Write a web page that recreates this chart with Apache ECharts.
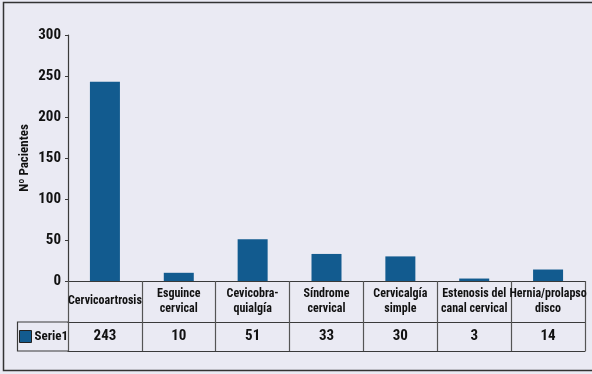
<!DOCTYPE html>
<html>
<head>
<meta charset="utf-8">
<script src="https://cdn.jsdelivr.net/npm/echarts@6/dist/echarts.min.js"></script>
<style>
  html, body { margin: 0; padding: 0; background: #eaeaf3; }
  #main { width: 592px; height: 374px; }
</style>
</head>
<body>
<div id="main"></div>
<script>
// datos del gráfico
const categorias = ['Cervicoartrosis', 'Esguince\ncervical', 'Cevicobra-\nquialgía', 'Síndrome\ncervical', 'Cervicalgía\nsimple', 'Estenosis del\ncanal cervical', 'Hernia/prolapso\ndisco'];
const serie1 = [243, 10, 51, 33, 30, 3, 14];
const nombreSerie = 'Serie1';

const fuente = '"Roboto Condensed", "Liberation Sans Narrow", sans-serif';
const azul = '#125b8f';
const linea = '#3a3a3a';

const chart = echarts.init(document.getElementById('main'));

const option = {
  backgroundColor: '#eaeaf3',
  animation: false,
  textStyle: { fontFamily: fuente },
  grid: { left: 68, right: 7, top: 35, bottom: 93, outerBoundsMode: 'none', containLabel: false },
  legend: {
    left: 19, top: 330, padding: 0,
    itemWidth: 12, itemHeight: 12, itemGap: 4,
    icon: 'rect',
    itemStyle: { borderColor: '#222', borderWidth: 1 },
    textStyle: { fontFamily: fuente, fontWeight: 'bold', fontSize: 13, color: '#111', padding: [0, 0, 0, -2] },
    data: [nombreSerie]
  },
  xAxis: [
    {
      type: 'category',
      data: categorias,
      axisLine: { lineStyle: { color: linea, width: 1.2 } },
      axisTick: { show: true, length: 70, lineStyle: { color: '#555', width: 1.2 } },
      axisLabel: {
        interval: 0, margin: 20, verticalAlign: 'middle',
        fontFamily: fuente, fontWeight: 'bold', fontSize: 12, lineHeight: 15, color: '#111'
      }
    },
    {
      type: 'category',
      position: 'bottom',
      offset: 41,
      data: serie1.map(String),
      axisLine: { lineStyle: { color: linea, width: 1.2 } },
      axisTick: { show: false },
      axisLabel: {
        interval: 0, margin: 14, verticalAlign: 'middle',
        fontFamily: fuente, fontWeight: 'bold', fontSize: 15, color: '#111'
      }
    },
    {
      type: 'category',
      position: 'bottom',
      offset: 70,
      data: categorias,
      axisLine: { lineStyle: { color: linea, width: 1.2 } },
      axisTick: { show: false },
      axisLabel: { show: false }
    }
  ],
  yAxis: {
    type: 'value',
    min: 0, max: 300, interval: 50,
    name: 'Nº Pacientes',
    nameLocation: 'middle',
    nameGap: 37,
    nameMoveOverlap: false,
    nameTextStyle: { fontFamily: fuente, fontWeight: 'bold', fontSize: 13, color: '#111' },
    axisLine: { show: true, lineStyle: { color: linea, width: 1.2 } },
    axisTick: { show: true, length: 3, lineStyle: { color: linea } },
    axisLabel: { margin: 7, fontFamily: fuente, fontWeight: 'bold', fontSize: 15, color: '#111' },
    splitLine: { show: false }
  },
  series: [
    {
      name: nombreSerie,
      type: 'bar',
      data: serie1,
      barWidth: 30,
      itemStyle: { color: azul }
    }
  ],
  graphic: [
    {
      type: 'rect',
      shape: { x: 3.5, y: 2.5, width: 620, height: 368 },
      style: { fill: 'none', stroke: '#333', lineWidth: 1.5 },
      silent: true
    },
    {
      type: 'polyline',
      shape: { points: [[68, 322], [17.5, 322], [17.5, 351], [68, 351]] },
      style: { fill: 'none', stroke: linea, lineWidth: 1.2 },
      silent: true
    }
  ]
};

chart.setOption(option);
</script>
</body>
</html>
